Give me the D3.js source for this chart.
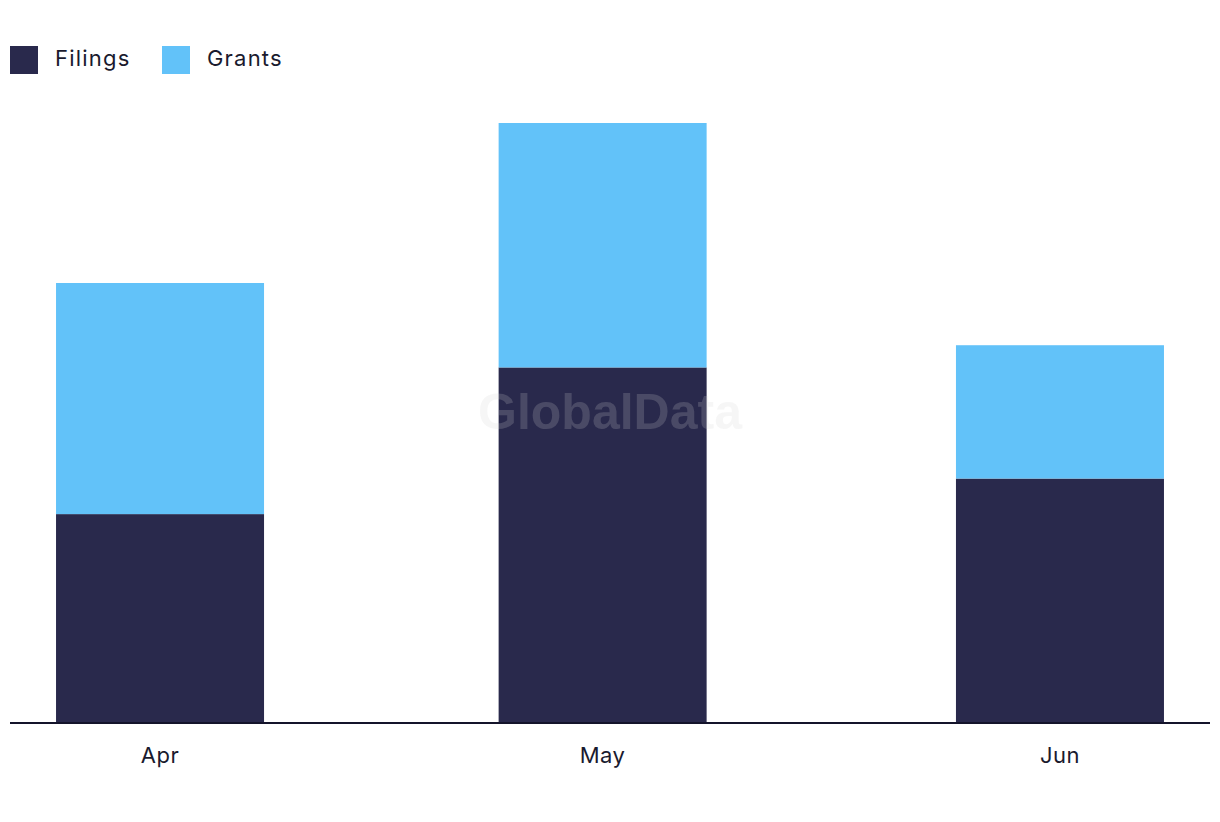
<!DOCTYPE html>
<html>
<head>
<meta charset="utf-8">
<script src="https://cdn.jsdelivr.net/npm/d3@7"></script>
<style>
  body { margin: 0; background: #fff; }
  svg { display: block; font-family: Inter, "Noto Sans", sans-serif; }
</style>
</head>
<body>
<svg id="chart" width="1220" height="822"></svg>
<script>
const months = ["Apr", "May", "Jun"];
const monthDates = [new Date(2023, 3, 1), new Date(2023, 4, 1), new Date(2023, 5, 1)];
const filings = [47, 80, 55];
const grants = [52, 55, 30];
const seriesNames = ["Filings", "Grants"];
const colors = ["#29294c", "#62c2f9"];

const width = 1220, height = 822;
const baseY = 723, topY = 123;
const barW = 208;

const svg = d3.select("#chart");

const rows = months.map((m, i) => ({ month: m, date: monthDates[i], Filings: filings[i], Grants: grants[i] }));
const stack = d3.stack().keys(seriesNames)(rows);

const pad = 10.17 * 864e5;
const x = d3.scaleTime()
  .domain([new Date(+monthDates[0] - pad), new Date(+monthDates[2] + pad)])
  .range([10, 1210]);

const y = d3.scaleLinear()
  .domain([0, d3.max(rows, d => d.Filings + d.Grants)])
  .range([baseY, topY]);

// bars
svg.append("g").selectAll("g")
  .data(stack)
  .join("g")
  .attr("fill", (d, i) => colors[i])
  .selectAll("rect")
  .data(d => d)
  .join("rect")
  .attr("x", d => x(d.data.date) - barW / 2)
  .attr("y", d => y(d[1]))
  .attr("width", barW)
  .attr("height", d => y(d[0]) - y(d[1]));

// watermark
svg.append("text")
  .attr("x", 610)
  .attr("y", 429)
  .attr("text-anchor", "middle")
  .style("font-family", "'Liberation Sans', Arial, sans-serif")
  .style("font-weight", "bold")
  .style("font-size", "50px")
  .attr("fill", "#d0d0d0")
  .attr("fill-opacity", 0.2)
  .text("GlobalData");

// x axis
const xAxis = svg.append("g")
  .attr("transform", `translate(0,${baseY})`);
xAxis.append("line")
  .attr("x1", 10).attr("x2", 1210)
  .attr("stroke", "#14142b")
  .attr("stroke-width", 2);
xAxis.selectAll("text")
  .data(rows)
  .join("text")
  .attr("x", d => x(d.date))
  .attr("y", 40)
  .attr("text-anchor", "middle")
  .style("font-size", "22px")
  .style("letter-spacing", "0.5px")
  .attr("fill", "#1a1a2e")
  .text(d => d.month);

// legend
const legendX = [10, 162];
const legend = svg.append("g").selectAll("g")
  .data(seriesNames)
  .join("g")
  .attr("transform", (d, i) => `translate(${legendX[i]},46)`);
legend.append("rect")
  .attr("width", 28).attr("height", 28)
  .attr("fill", (d, i) => colors[i]);
legend.append("text")
  .attr("x", 45)
  .attr("y", 20)
  .style("font-size", "22px")
  .style("letter-spacing", "1.2px")
  .attr("fill", "#1a1a2e")
  .text(d => d);
</script>
</body>
</html>
